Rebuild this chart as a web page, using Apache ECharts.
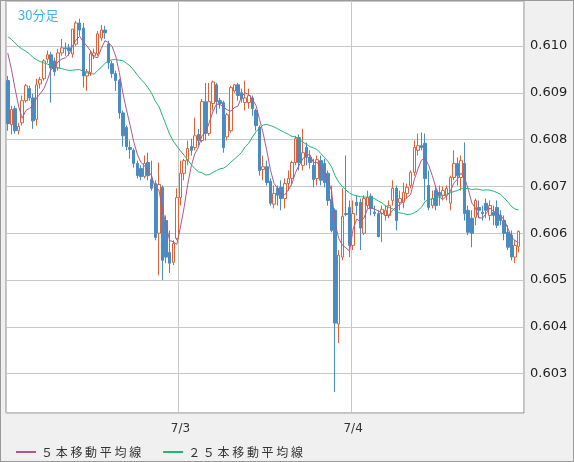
<!DOCTYPE html>
<html>
<head>
<meta charset="utf-8">
<script src="https://cdn.jsdelivr.net/npm/echarts@6/dist/echarts.min.js"></script>
<style>
  html, body { margin: 0; padding: 0; background: #f0f0f0; }
  #chart { width: 572px; height: 460px; border: 1px solid #9a9a9a; }
</style>
</head>
<body>
<div id="chart"></div>
<script>
// 30分足 7/2 00:00 - 7/4 23:00  [open, close, low, high]
var ohlc = [
  [0.60926,0.60834,0.60819,0.60936],[0.60832,0.60864,0.60811,0.60872],[0.60866,0.60819,0.60813,0.60872],
  [0.60819,0.60828,0.60811,0.60836],[0.60836,0.60883,0.60830,0.60894],[0.60883,0.60915,0.60879,0.60919],
  [0.60909,0.60889,0.60883,0.60915],[0.60889,0.60840,0.60823,0.60898],[0.60843,0.60917,0.60830,0.60930],
  [0.60919,0.60928,0.60909,0.60934],[0.60930,0.60968,0.60926,0.60972],[0.60972,0.60981,0.60964,0.60990],
  [0.60981,0.60953,0.60879,0.60987],[0.60968,0.60945,0.60936,0.60975],[0.60953,0.60985,0.60947,0.60994],
  [0.60985,0.60996,0.60979,0.61015],[0.60996,0.60994,0.60979,0.61007],[0.60996,0.60990,0.60979,0.61004],
  [0.60983,0.61036,0.60975,0.61036],[0.61004,0.61049,0.61000,0.61053],[0.61049,0.61034,0.61021,0.61058],
  [0.61038,0.60936,0.60911,0.61049],[0.60936,0.60945,0.60904,0.60951],[0.60943,0.60983,0.60936,0.60990],
  [0.60979,0.60985,0.60972,0.60994],[0.60983,0.61026,0.60979,0.61032],[0.61017,0.61034,0.61011,0.61045],
  [0.61034,0.61028,0.61015,0.61043],[0.61004,0.60964,0.60951,0.61011],[0.60962,0.60941,0.60932,0.60968],
  [0.60941,0.60926,0.60904,0.60947],[0.60926,0.60857,0.60845,0.60930],[0.60857,0.60808,0.60785,0.60862],
  [0.60826,0.60785,0.60777,0.60830],[0.60783,0.60779,0.60759,0.60798],[0.60777,0.60749,0.60740,0.60781],
  [0.60749,0.60723,0.60717,0.60755],[0.60738,0.60721,0.60713,0.60745],[0.60721,0.60749,0.60717,0.60766],
  [0.60751,0.60723,0.60713,0.60772],[0.60715,0.60696,0.60691,0.60755],[0.60706,0.60591,0.60585,0.60713],
  [0.60600,0.60704,0.60510,0.60751],[0.60698,0.60542,0.60500,0.60702],[0.60627,0.60549,0.60536,0.60638],
  [0.60559,0.60536,0.60515,0.60606],[0.60538,0.60578,0.60532,0.60585],[0.60589,0.60676,0.60585,0.60696],
  [0.60676,0.60728,0.60659,0.60755],[0.60728,0.60755,0.60713,0.60759],[0.60755,0.60781,0.60745,0.60798],
  [0.60785,0.60777,0.60766,0.60802],[0.60783,0.60808,0.60777,0.60847],[0.60811,0.60798,0.60787,0.60823],
  [0.60798,0.60881,0.60794,0.60887],[0.60881,0.60813,0.60798,0.60921],[0.60813,0.60881,0.60808,0.60921],
  [0.60877,0.60923,0.60862,0.60926],[0.60917,0.60881,0.60855,0.60921],[0.60883,0.60877,0.60866,0.60889],
  [0.60879,0.60783,0.60772,0.60883],[0.60806,0.60853,0.60798,0.60857],[0.60819,0.60911,0.60815,0.60915],
  [0.60904,0.60917,0.60900,0.60919],[0.60917,0.60894,0.60883,0.60921],[0.60900,0.60887,0.60879,0.60909],
  [0.60879,0.60889,0.60862,0.60926],[0.60879,0.60894,0.60866,0.60909],[0.60889,0.60866,0.60851,0.60894],
  [0.60862,0.60830,0.60819,0.60866],[0.60826,0.60734,0.60723,0.60830],[0.60736,0.60742,0.60713,0.60766],
  [0.60742,0.60708,0.60702,0.60755],[0.60711,0.60664,0.60659,0.60717],[0.60662,0.60685,0.60653,0.60702],
  [0.60696,0.60681,0.60659,0.60702],[0.60698,0.60674,0.60649,0.60713],[0.60674,0.60706,0.60653,0.60717],
  [0.60706,0.60717,0.60691,0.60734],[0.60717,0.60751,0.60702,0.60755],[0.60751,0.60802,0.60745,0.60808],
  [0.60804,0.60751,0.60734,0.60811],[0.60745,0.60772,0.60734,0.60823],[0.60783,0.60762,0.60745,0.60794],
  [0.60762,0.60751,0.60738,0.60777],[0.60745,0.60715,0.60698,0.60759],[0.60717,0.60757,0.60702,0.60766],
  [0.60755,0.60713,0.60702,0.60766],[0.60749,0.60708,0.60698,0.60759],[0.60728,0.60670,0.60659,0.60734],
  [0.60672,0.60606,0.60602,0.60702],[0.60649,0.60408,0.60261,0.60653],[0.60406,0.60553,0.60365,0.60564],
  [0.60549,0.60636,0.60542,0.60696],[0.60642,0.60640,0.60636,0.60766],[0.60655,0.60574,0.60549,0.60670],
  [0.60574,0.60642,0.60564,0.60670],[0.60666,0.60659,0.60638,0.60681],[0.60666,0.60611,0.60564,0.60674],
  [0.60600,0.60674,0.60596,0.60681],[0.60659,0.60676,0.60653,0.60691],[0.60679,0.60653,0.60638,0.60685],
  [0.60645,0.60642,0.60636,0.60659],[0.60642,0.60593,0.60591,0.60649],[0.60642,0.60651,0.60581,0.60659],
  [0.60638,0.60649,0.60627,0.60659],[0.60638,0.60659,0.60632,0.60670],[0.60670,0.60696,0.60659,0.60713],
  [0.60696,0.60627,0.60606,0.60702],[0.60666,0.60674,0.60649,0.60691],[0.60666,0.60687,0.60653,0.60708],
  [0.60685,0.60698,0.60674,0.60706],[0.60702,0.60730,0.60696,0.60734],[0.60730,0.60783,0.60723,0.60798],
  [0.60777,0.60787,0.60766,0.60813],[0.60787,0.60783,0.60777,0.60815],[0.60792,0.60717,0.60670,0.60813],
  [0.60702,0.60655,0.60649,0.60734],[0.60659,0.60674,0.60653,0.60691],[0.60691,0.60659,0.60649,0.60702],
  [0.60687,0.60681,0.60659,0.60702],[0.60681,0.60691,0.60670,0.60700],[0.60681,0.60696,0.60670,0.60702],
  [0.60664,0.60719,0.60649,0.60723],[0.60719,0.60749,0.60713,0.60777],[0.60749,0.60723,0.60702,0.60762],
  [0.60719,0.60755,0.60691,0.60766],[0.60749,0.60642,0.60627,0.60794],[0.60649,0.60602,0.60596,0.60659],
  [0.60632,0.60600,0.60570,0.60649],[0.60634,0.60670,0.60617,0.60674],[0.60655,0.60649,0.60632,0.60670],
  [0.60645,0.60642,0.60627,0.60659],[0.60664,0.60649,0.60632,0.60674],[0.60638,0.60659,0.60627,0.60670],
  [0.60645,0.60638,0.60617,0.60659],[0.60655,0.60617,0.60611,0.60670],[0.60638,0.60627,0.60617,0.60649],
  [0.60627,0.60600,0.60585,0.60638],[0.60602,0.60570,0.60564,0.60617],[0.60596,0.60549,0.60542,0.60606],
  [0.60549,0.60574,0.60536,0.60585],[0.60572,0.60604,0.60559,0.60606]
];
// closes of the 24 bars before 7/2 00:00 (for the 25本 average)
var priorCloses = [
  0.61002,0.61010,0.61018,0.61025,0.61031,0.61022,0.61035,0.61040,0.61028,0.61033,0.61045,0.61038,
  0.61030,0.61026,0.61036,0.61041,0.61032,0.61027,0.61020,0.61030,0.61035,0.61024,0.61018,0.61012
];
var days = ["7/2", "7/3", "7/4"];
var barsPerDay = 48;
var padBars = 2;

var categories = [];
for (var d = 0; d < days.length; d++) {
  for (var k = 0; k < barsPerDay; k++) {
    var hh = Math.floor(k / 2), mm = k % 2 ? "30" : "00";
    categories.push(days[d] + " " + (hh < 10 ? "0" + hh : hh) + ":" + mm);
  }
}
categories = categories.slice(0, ohlc.length + padBars);

function movingAverage(n) {
  var closes = priorCloses.concat(ohlc.map(function (r) { return r[1]; }));
  var off = priorCloses.length, res = [];
  for (var i = 0; i < ohlc.length; i++) {
    var j = i + off;
    if (j - n + 1 < 0) { res.push("-"); continue; }
    var s = 0;
    for (var m = j - n + 1; m <= j; m++) s += closes[m];
    res.push(+(s / n).toFixed(6));
  }
  return res;
}

var myChart = echarts.init(document.getElementById("chart"));
var option = {
  backgroundColor: "#f0f0f0",
  animation: false,
  title: {
    text: "30分足", left: 12, top: 3,
    textStyle: { color: "#3bb3e8", fontSize: 13, fontWeight: "normal", fontFamily: "Noto Sans CJK JP" }
  },
  legend: {
    left: 10, top: 440, itemWidth: 20, itemHeight: 2, itemGap: 22,
    icon: "rect",
    textStyle: { color: "#333", fontSize: 12, fontFamily: "Noto Sans CJK JP" },
    data: ["５ 本 移 動 平 均 線", "２ ５ 本 移 動 平 均 線"]
  },
  grid: {
    left: 5, right: 49, top: 0, bottom: 48,
    show: true, backgroundColor: "#fff", borderColor: "#888", borderWidth: 1
  },
  xAxis: {
    type: "category", data: categories, boundaryGap: true,
    axisLine: { show: false }, axisTick: { show: false },
    axisLabel: {
      color: "#333", fontSize: 12, margin: 10, fontFamily: "DejaVu Sans",
      interval: function (i) { return i > 0 && i % barsPerDay === 0; },
      formatter: function (v) { return v.split(" ")[0]; }
    },
    splitLine: {
      show: true, lineStyle: { color: "#c8c8c8", width: 1 },
      interval: function (i) { return i % barsPerDay === 0; }
    }
  },
  yAxis: {
    type: "value", position: "right", scale: true,
    min: 0.60216, max: 0.61096, minInterval: 0.001, maxInterval: 0.001, splitNumber: 9,
    axisLine: { show: false }, axisTick: { show: false },
    axisLabel: {
      color: "#222", fontSize: 13, margin: 6, fontFamily: "DejaVu Sans",
      showMinLabel: false, showMaxLabel: false,
      formatter: function (v) { return v.toFixed(3); }
    },
    splitLine: { lineStyle: { color: "#c8c8c8", width: 1 } }
  },
  series: [
    {
      type: "candlestick", data: ohlc, barWidth: 3,
      itemStyle: {
        color: "#ffffff", borderColor: "#d9643a",
        color0: "#4a8bc2", borderColor0: "#4a8bc2", borderWidth: 1
      }
    },
    {
      name: "５ 本 移 動 平 均 線", type: "line", data: movingAverage(5),
      showSymbol: false, symbol: "none", color: "#b0578c", lineStyle: { width: 1 }
    },
    {
      name: "２ ５ 本 移 動 平 均 線", type: "line", data: movingAverage(25),
      showSymbol: false, symbol: "none", color: "#22b573", lineStyle: { width: 1 }
    }
  ]
};
myChart.setOption(option);
</script>
</body>
</html>
